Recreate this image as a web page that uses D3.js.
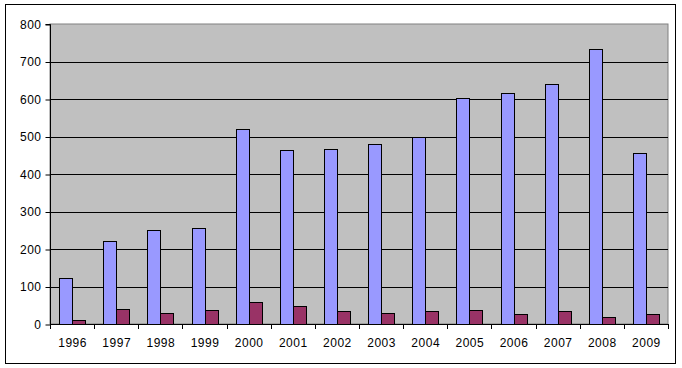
<!DOCTYPE html>
<html><head><meta charset="utf-8">
<script src="https://cdn.jsdelivr.net/npm/d3@7"></script>
<style>body{margin:0;background:#fff}svg text{font-family:Arial,"Liberation Sans",sans-serif;font-size:12px;letter-spacing:0.5px;fill:#000}</style>
</head><body><svg id="c" width="682" height="368"></svg>
<script>
const years = ["1996","1997","1998","1999","2000","2001","2002","2003","2004","2005","2006","2007","2008","2009"];
const seriesA = [122,221,250,256,519,463,466,479,500,603,616,640,733,456];
const seriesB = [10,40,29,37,58,47,35,29,35,37,27,35,18,27];
const yTicks = [0,100,200,300,400,500,600,700,800];

const svg = d3.select("#c");
svg.append("rect").attr("x",5.5).attr("y",4.5).attr("width",670).attr("height",359)
  .attr("fill","#fff").attr("stroke","#000").attr("stroke-width",1);

const L=50, R=668, T=24, B=324;
const x = d3.scaleBand().domain(years).range([L,R]).paddingInner(0).paddingOuter(0);
const y = d3.scaleLinear().domain([0,800]).range([B,T]);
const sub = d3.scaleBand().domain(["a","b"]).range([0,x.bandwidth()]).paddingInner(0).paddingOuter(0.7);

svg.append("rect").attr("x",L).attr("y",T).attr("width",R-L).attr("height",B-T)
  .attr("fill","#C0C0C0").attr("stroke","#808080").attr("stroke-width",1);

svg.append("g").selectAll("line").data(yTicks.filter(d=>d>0&&d<800)).join("line")
  .attr("x1",L).attr("x2",R).attr("y1",d=>Math.round(y(d))+0.5).attr("y2",d=>Math.round(y(d))+0.5)
  .attr("stroke","#000");

const g = svg.append("g");
years.forEach((yr,i)=>{
  [["a",seriesA[i],"#9999FF"],["b",seriesB[i],"#993366"]].forEach(([k,v,c])=>{
    g.append("rect").attr("x",Math.round(x(yr)+sub(k))+0.5).attr("y",Math.round(y(v))+0.5)
      .attr("width",Math.round(sub.bandwidth())).attr("height",Math.round(y(0))-Math.round(y(v)))
      .attr("fill",c).attr("stroke","#000").attr("stroke-width",1);
  });
});

const yAxis = d3.axisLeft(y).tickValues(yTicks).tickSize(5).tickPadding(4);
const ya = svg.append("g").attr("transform",`translate(${L+0.5},0.5)`).call(yAxis);
ya.selectAll("path,line").attr("stroke","#000");
ya.select(".domain").attr("d",`M-5,${T}H0V${B}`);
ya.selectAll("text").style("font-family","Arial,'Liberation Sans',sans-serif").style("font-size","12px");

const xa = svg.append("g").attr("transform",`translate(0.5,${B+0.5})`).call(d3.axisBottom(x).tickSize(0).tickPadding(14));
xa.select(".domain").attr("stroke","#000").attr("d",`M${L},0H${R}`);
xa.selectAll("text").style("font-family","Arial,'Liberation Sans',sans-serif").style("font-size","12px");
svg.append("g").selectAll("line").data(d3.range(years.length+1)).join("line")
  .attr("x1",d=>Math.round(L+d*x.step())+0.5).attr("x2",d=>Math.round(L+d*x.step())+0.5)
  .attr("y1",B).attr("y2",B+5).attr("stroke","#000");
</script></body></html>
